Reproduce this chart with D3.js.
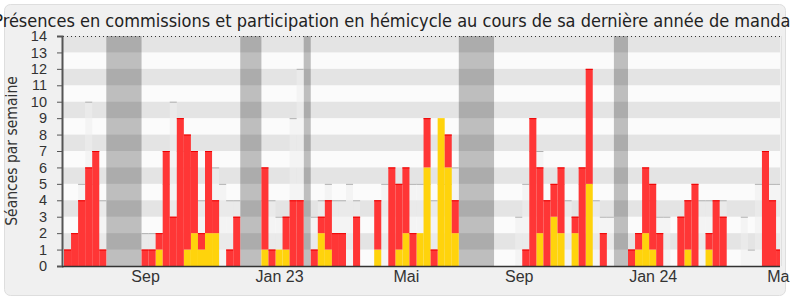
<!DOCTYPE html>
<html>
<head>
<meta charset="utf-8">
<script src="https://cdn.jsdelivr.net/npm/d3@7"></script>
<style>
  body { margin: 0; background: #fff; }
  svg { display: block; font-family: "DejaVu Sans Condensed", "DejaVu Sans", sans-serif; font-stretch: condensed; }
</style>
</head>
<body>
<svg width="790" height="300"></svg>
<script>
// one value per week, from the first week of the mandate
var commission = [1,2,4,6,7,1, 0,0,0,0,0,
  1,1,1,7,3,9,7,5,1,5,2,0,1,3, 0,0,0,
  5,1,0,2,4,4, 0,
  1,1,3,2,2,0,3,0,0,3,0,6,4,4,2,0,3,1,0,2,2, 0,0,0,0,0,
  0,0,0,0,1,9,4,4,2,4,0,1,6,7,0,2,0, 0,0,
  1,1,4,4,2,0,0,3,3,5,0,1,4,3,0,0,0,0,0,7,4,1];
var hemicycle = [0,0,0,0,0,0, 0,0,0,0,0,
  0,0,1,0,0,0,1,2,1,2,2,0,0,0, 0,0,0,
  1,0,1,1,0,0, 0,
  0,2,1,0,0,0,0,0,0,1,0,0,1,2,0,2,6,0,9,6,2, 0,0,0,0,0,
  0,0,0,0,0,0,2,0,3,2,0,2,0,5,0,0,0, 0,0,
  0,1,2,1,0,0,0,0,1,0,0,1,0,0,0,0,0,0,0,0,0,0];
// median of all deputies
var mediane = [1,2,5,10,5,4, 0,0,0,0,0,
  2,2,2,5,10,7,6,6,4,6,6,5,4,4, 0,0,0,
  4,4,3,3,9,12, 0,
  3,4,5,4,4,5,4,0,0,4,5,5,5,5,5,5,5,4,5,5,6, 0,0,0,0,0,
  0,0,0,3,5,7,7,4,4,5,4,3,5,5,4,3,3, 0,0,
  1,2,4,4,3,3,0,3,4,4,4,4,4,4,0,0,3,1,5,5,5,5];
// vacances parlementaires (first week, last week)
var vacances = [[6,10],[25,27],[34,34],[56,60],[78,79]];
var tickWeeks = [11,30,48,64,83,101];
var tickLabels = ["Sep","Jan 23","Mai","Sep","Jan 24","Mai"];

var svg = d3.select("svg");
var W = +svg.attr("width"), H = +svg.attr("height");

var x = d3.scaleLinear().domain([0, commission.length]).range([64, 64 + commission.length * 7.05]),
    y = d3.scaleLinear().domain([0, 14]).range([266, 36]);
var left = 63, right = 780;

//panel
svg.append("rect")
    .attr("x", 4.5).attr("y", 4.5)
    .attr("width", W - 9).attr("height", H - 9)
    .attr("rx", 6).attr("ry", 6)
    .style("fill", "#f0f0f0")
    .style("stroke", "#dedede");

svg.append("defs").append("clipPath").attr("id", "clip")
  .append("rect")
    .attr("x", left).attr("y", y(14))
    .attr("width", right - left).attr("height", y(0) - y(14));

var plot = svg.append("g").attr("clip-path", "url(#clip)");

plot.append("rect")
    .attr("x", left).attr("y", y(14))
    .attr("width", right - left).attr("height", y(0) - y(14))
    .style("fill", "#fbfbfb");

//vacation bands
plot.selectAll(".vac")
  .data(vacances)
  .enter().append("rect")
    .attr("class", "vac")
    .attr("x", function(d) { return x(d[0]); })
    .attr("width", function(d) { return x(d[1] + 1) - x(d[0]); })
    .attr("y", y(14))
    .attr("height", y(0) - y(14))
    .style("fill", "#bebebe");

//grey stripes
plot.selectAll(".stripe")
  .data(d3.range(1, 14, 2))
  .enter().append("rect")
    .attr("class", "stripe")
    .attr("x", left).attr("width", right - left)
    .attr("y", function(d) { return y(d + 1); })
    .attr("height", function(d) { return y(d) - y(d + 1); })
    .style("fill", "#000")
    .style("fill-opacity", 0.09);

var weeks = d3.range(commission.length);

//median columns
plot.selectAll(".med")
  .data(weeks.filter(function(i) { return mediane[i] > 0; }))
  .enter().append("rect")
    .attr("class", "med")
    .attr("x", function(i) { return x(i); })
    .attr("width", x(1) - x(0))
    .attr("y", function(i) { return y(mediane[i]); })
    .attr("height", function(i) { return y(0) - y(mediane[i]); })
    .style("fill", "#eeeeee")
    .style("fill-opacity", 0.55);

plot.selectAll(".medline")
  .data(weeks.filter(function(i) { return mediane[i] > 0; }))
  .enter().append("line")
    .attr("class", "medline")
    .attr("x1", function(i) { return x(i); })
    .attr("x2", function(i) { return x(i + 1); })
    .attr("y1", function(i) { return y(mediane[i]) + 0.5; })
    .attr("y2", function(i) { return y(mediane[i]) + 0.5; })
    .style("stroke", "#b0b0b0");

//hemicycle (bottom) and commission (top)
plot.selectAll(".hemi")
  .data(weeks.filter(function(i) { return hemicycle[i] > 0; }))
  .enter().append("rect")
    .attr("class", "hemi")
    .attr("x", function(i) { return x(i); })
    .attr("width", x(1) - x(0))
    .attr("y", function(i) { return y(hemicycle[i]); })
    .attr("height", function(i) { return y(0) - y(hemicycle[i]); })
    .style("fill", "#ffd30c");

plot.selectAll(".com")
  .data(weeks.filter(function(i) { return commission[i] > 0; }))
  .enter().append("rect")
    .attr("class", "com")
    .attr("x", function(i) { return x(i); })
    .attr("width", x(1) - x(0))
    .attr("y", function(i) { return y(hemicycle[i] + commission[i]); })
    .attr("height", function(i) { return y(hemicycle[i]) - y(hemicycle[i] + commission[i]); })
    .style("fill", "#ff3636");

plot.selectAll(".comtop")
  .data(weeks.filter(function(i) { return commission[i] > 0; }))
  .enter().append("line")
    .attr("class", "comtop")
    .attr("x1", function(i) { return x(i); })
    .attr("x2", function(i) { return x(i + 1); })
    .attr("y1", function(i) { return y(hemicycle[i] + commission[i]) + 0.5; })
    .attr("y2", function(i) { return y(hemicycle[i] + commission[i]) + 0.5; })
    .style("stroke", "#ee0000");

//top dotted line
svg.append("line")
    .attr("x1", left).attr("x2", right)
    .attr("y1", y(14) + 0.5).attr("y2", y(14) + 0.5)
    .style("stroke", "#333")
    .style("stroke-dasharray", "1,3");

svg.append("line")
    .attr("x1", right + 1.5).attr("x2", right + 1.5)
    .attr("y1", y(14)).attr("y2", y(0))
    .style("stroke", "#e0e0e0");

//y axis
var yAxis = svg.append("g")
    .attr("transform", "translate(" + 62 + ",0)")
    .call(d3.axisLeft(y).ticks(14).tickSize(5).tickPadding(10));
yAxis.select(".domain").style("stroke", "#555").style("stroke-width", 2);
yAxis.selectAll(".tick line").style("stroke", "#555");
yAxis.selectAll("text").style("font-size", "14.5px").style("fill", "#333").style("font-family", null);

//x axis
var xAxis = svg.append("g")
    .attr("transform", "translate(0," + y(0) + ")")
    .call(d3.axisBottom(x)
        .tickValues(tickWeeks.map(function(d) { return d + 0.5; }))
        .tickFormat(function(d, i) { return tickLabels[i]; })
        .tickSize(0).tickPadding(5));
xAxis.select(".domain").attr("d", "M" + 62 + ",0.5H" + right).style("stroke", "#333").style("stroke-width", 1.5);
xAxis.selectAll("text").style("font-size", "16px").style("fill", "#333").style("font-family", null);

//y label
svg.append("text")
    .attr("transform", "translate(17," + 151 + ") rotate(-90)")
    .attr("text-anchor", "middle")
    .style("font-size", "15.5px")
    .style("fill", "#333")
    .text("Séances par semaine");

//title
svg.append("text")
    .attr("x", W / 2)
    .attr("y", 27)
    .attr("text-anchor", "middle")
    .style("font-size", "18px")
    .style("fill", "#222")
    .text("Présences en commissions et participation en hémicycle au cours de sa dernière année de mandat");
</script>
</body>
</html>
